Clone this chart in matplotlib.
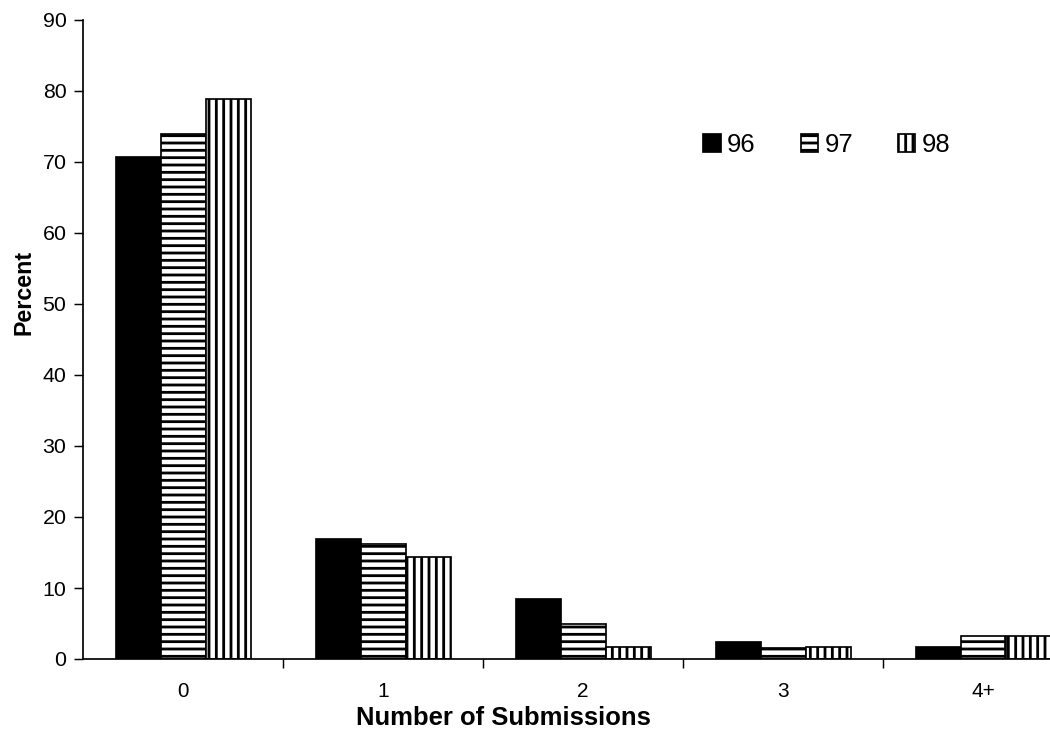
import matplotlib
matplotlib.use("Agg")
import matplotlib.pyplot as plt
import numpy as np

categories = ["0", "1", "2", "3", "4+"]
years = ["96", "97", "98"]
pct_96 = [70.7, 16.9, 8.4, 2.4, 1.7]
pct_97 = [73.9, 16.2, 5.0, 1.6, 3.2]
pct_98 = [78.9, 14.4, 1.7, 1.7, 3.2]
y_ticks = [0, 10, 20, 30, 40, 50, 60, 70, 80, 90]

plt.rcParams["font.family"] = ["Liberation Sans", "DejaVu Sans"]
plt.rcParams["hatch.linewidth"] = 2.3
plt.rcParams["hatch.color"] = "black"

DPI = 88
fig = plt.figure(figsize=(1050 / DPI, 736 / DPI), dpi=DPI)
ax = fig.add_axes([83 / 1050, 77 / 736, 1000 / 1050, 639 / 736])

x = np.arange(len(categories))
w = 0.225
styles = [dict(color="black", hatch=None),
          dict(color="white", hatch="--"),
          dict(color="white", hatch="||")]
for i, (vals, st) in enumerate(zip([pct_96, pct_97, pct_98], styles)):
    ax.bar(x + (i - 1) * w, vals, width=w, facecolor=st["color"],
           edgecolor="black", linewidth=1.4, hatch=st["hatch"], label=years[i])

ax.set_xlim(-0.5, len(categories) - 0.5)
ax.set_ylim(0, 90)
ax.set_yticks(y_ticks)
ax.tick_params(axis="y", direction="out", length=7.5, width=1.2, pad=6,
               labelsize=17.5)

# boundary ticks between categories, labels centred under each group
ax.set_xticks(np.arange(len(categories)) + 0.5)
ax.set_xticklabels([])
ax.tick_params(axis="x", which="major", direction="out", length=7, width=1.2)
ax.set_xticks(x, minor=True)
ax.set_xticklabels(categories, minor=True, fontsize=17)
ax.tick_params(axis="x", which="minor", length=0, pad=19)

for s in ["top", "right"]:
    ax.spines[s].set_visible(False)
for s in ["left", "bottom"]:
    ax.spines[s].set_linewidth(1.4)

ax.set_ylabel("Percent", fontsize=19, fontweight="bold")
ax.yaxis.set_label_coords(-0.047, 0.573)
ax.set_xlabel("Number of Submissions", fontsize=21, fontweight="bold")
ax.xaxis.set_label_coords(0.42, -0.074)

ax.legend(loc="center left", bbox_to_anchor=(597 / 1000, (659 - 145) / 639),
          ncol=3, frameon=False, fontsize=21,
          handlelength=0.68, handleheight=0.68,
          handletextpad=0.25, columnspacing=1.75)

fig.savefig("out.png", dpi=DPI, facecolor="white")
